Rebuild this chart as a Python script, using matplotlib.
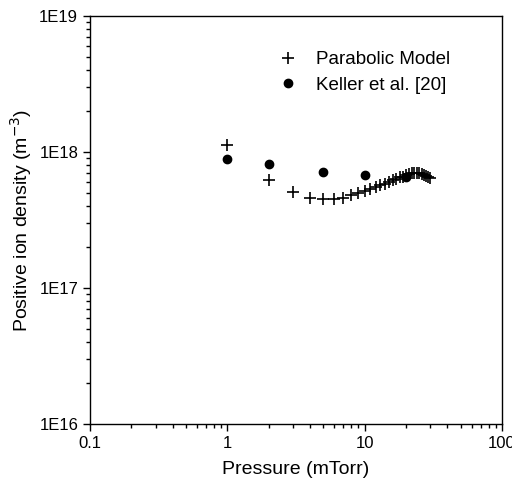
import matplotlib
matplotlib.use("Agg")
import matplotlib.pyplot as plt
from matplotlib.ticker import FixedLocator, FixedFormatter, LogLocator, NullFormatter

plt.rcParams['font.family'] = ['Liberation Sans', 'DejaVu Sans']

# Parabolic model data
model_p = list(range(1, 31))
model_n = [1.13e18, 6.2e17, 5.05e17, 4.6e17, 4.5e17, 4.5e17, 4.6e17, 4.8e17, 5.0e17, 5.2e17,
           5.35e17, 5.5e17, 5.7e17, 5.85e17, 6.0e17, 6.2e17, 6.35e17, 6.5e17, 6.6e17, 6.75e17,
           6.85e17, 6.95e17, 7.0e17, 7.0e17, 6.95e17, 6.85e17, 6.75e17, 6.65e17, 6.55e17, 6.45e17]

# Keller et al. [20]
keller_p = [1, 2, 5, 10, 20]
keller_n = [8.9e17, 8.1e17, 7.1e17, 6.8e17, 6.5e17]

xticks = [0.1, 1, 10, 100]
xticklabels = ["0.1", "1", "10", "100"]
yticks = [1e16, 1e17, 1e18, 1e19]
yticklabels = ["1E16", "1E17", "1E18", "1E19"]

fig = plt.figure(figsize=(5.12, 4.79), dpi=100)
ax = fig.add_axes([90/512, 55/479, 412/512, 408/479])

ax.plot(model_p, model_n, linestyle='none', marker='+', color='black',
        markersize=9, markeredgewidth=1.2, label='Parabolic Model')
ax.plot(keller_p, keller_n, linestyle='none', marker='o', color='black',
        markersize=6, label='Keller et al. [20]')

ax.set_xscale('log')
ax.set_yscale('log')
ax.set_xlim(0.1, 100)
ax.set_ylim(1e16, 1e19)

ax.xaxis.set_major_locator(FixedLocator(xticks))
ax.xaxis.set_major_formatter(FixedFormatter(xticklabels))
ax.yaxis.set_major_locator(FixedLocator(yticks))
ax.yaxis.set_major_formatter(FixedFormatter(yticklabels))
ax.xaxis.set_minor_locator(LogLocator(base=10, subs=range(2, 10)))
ax.yaxis.set_minor_locator(LogLocator(base=10, subs=range(2, 10)))
ax.xaxis.set_minor_formatter(NullFormatter())
ax.yaxis.set_minor_formatter(NullFormatter())

ax.tick_params(which='both', direction='out', top=False, right=False, width=1)
ax.tick_params(which='major', length=5, labelsize=12)
ax.tick_params(which='minor', length=3)
for s in ax.spines.values():
    s.set_linewidth(1)

ax.set_xlabel('Pressure (mTorr)', fontsize=14, labelpad=7)
ax.set_ylabel('Positive ion density (m$^{-3}$)', fontsize=14, labelpad=4)

ax.legend(loc='upper left', bbox_to_anchor=(0.413, 0.955), frameon=False,
          fontsize=13.5, handletextpad=0.9, labelspacing=0.45, handlelength=1.2)

fig.savefig('out.png', dpi=100)
